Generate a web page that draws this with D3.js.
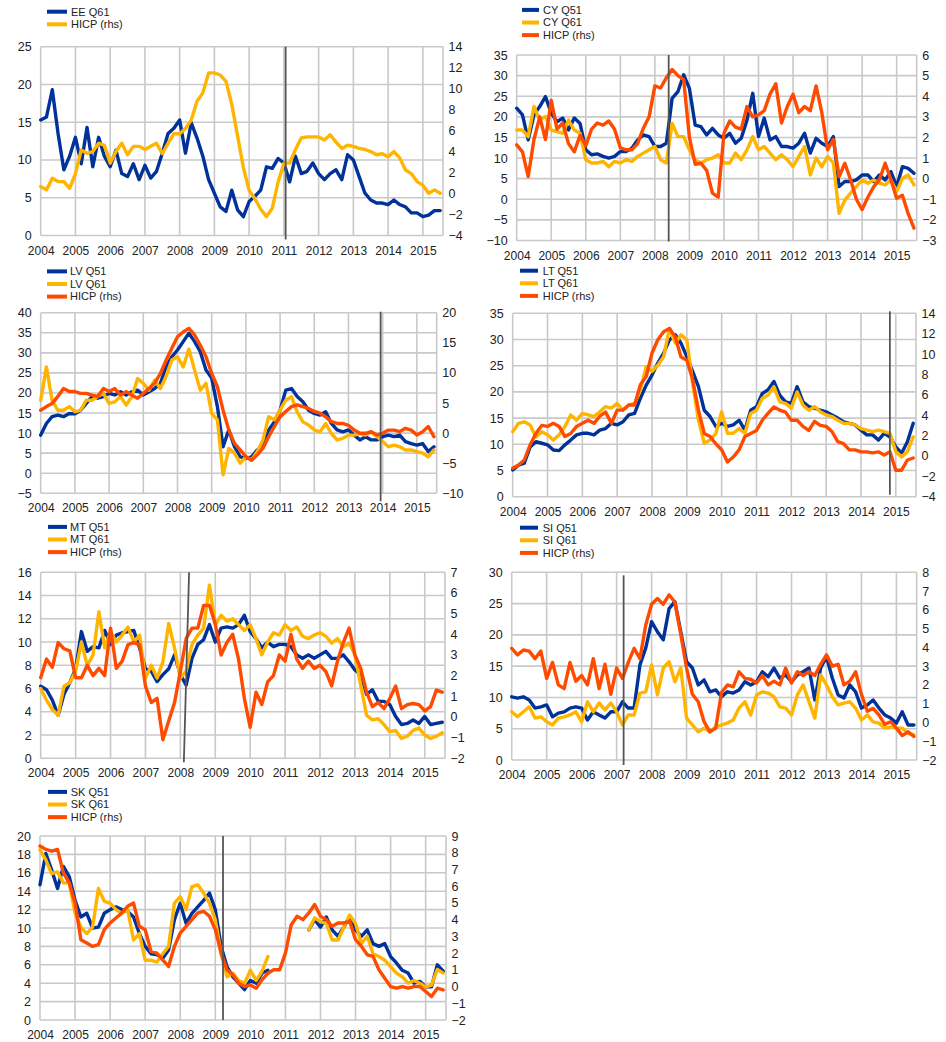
<!DOCTYPE html>
<html><head><meta charset="utf-8">
<script src="https://cdn.jsdelivr.net/npm/d3@7"></script>
<style>
body{margin:0;background:#fff;}
svg text{font-family:Arial,"Liberation Sans",sans-serif;fill:#222;}
</style></head><body>
<svg id="c" width="946" height="1042"></svg>
<script>
const dates = ["2004-01","2004-03","2004-05","2004-07","2004-09","2004-11",
"2005-01","2005-03","2005-05","2005-07","2005-09","2005-11",
"2006-01","2006-03","2006-05","2006-07","2006-09","2006-11",
"2007-01","2007-03","2007-05","2007-07","2007-09","2007-11",
"2008-01","2008-03","2008-05","2008-07","2008-09","2008-11",
"2009-01","2009-03","2009-05","2009-07","2009-09","2009-11",
"2010-01","2010-03","2010-05","2010-07","2010-09","2010-11",
"2011-01","2011-03","2011-05","2011-07","2011-09","2011-11",
"2012-01","2012-03","2012-05","2012-07","2012-09","2012-11",
"2013-01","2013-03","2013-05","2013-07","2013-09","2013-11",
"2014-01","2014-03","2014-05","2014-07","2014-09","2014-11",
"2015-01","2015-03","2015-05","2015-07"];
const years = [2004,2005,2006,2007,2008,2009,2010,2011,2012,2013,2014,2015];

const EE_Q61  = [15.3,15.7,19.3,13.5,8.7,10.5, 13,9.5,14.3,9.1,13,10.5, 9.1,11.3,8.2,7.8,9.5,7.4, 9.3,7.6,8.5,10.9,13.5,14.2, 15.3,10.9,14.9,12.9,10.5,7.4, 5.6,3.8,3.2,6,3.4,2.5, 4.5,5.2,6,9.1,8.9,10.2, 9.6,7.1,10.5,8.2,8.5,9.6, 8.2,7.4,8.2,8.7,7.4,10.7, 10,7.8,5.6,4.7,4.3,4.3, 4.1,4.7,4.1,3.8,3,3, 2.5,2.7,3.3,3.3];
const EE_HICP = [0.67,0.35,1.46,1.14,1.14,0.5, 1.9,4.16,3.84,4.0,4.8,4.6, 2.9,4,4.8,3.7,4.5,4.5, 4.2,4.5,4.8,3.8,4.8,5.7, 5.7,6.2,7,8.8,9.6,11.5, 11.5,11.3,10.7,8.5,5.5,2.5, 0.3,-0.5,-1.5,-2.2,-1.4,1.1, 2.9,2.9,4.2,5.3,5.4,5.4, 5.4,5.1,5.6,4.9,4.3,4.6, 4.5,4.3,4.2,4,3.7,3.8, 3.5,4,3.4,2.25,1.9,1.14, 0.8,0.03,0.35,0.03];

const CY_Q51  = [22.1,20.5,14.4,20.5,22.5,24.9, 20.9,18.8,19.7,16.8,19.7,18.4, 12,10.8,11,10.4,10,10.4, 11.6,11.6,12.4,14.4,15.6,15.2, 12.8,12.8,13.6,24.5,26.1,30.2, 26.9,18,17.6,15.6,17.2,15.6, 14.8,16,13.6,14.8,19.2,25.7, 15.2,19.7,14.4,15.2,12.8,12.8, 12.4,13.6,16,11.2,14.8,13.6, 12.8,15.2,3.1,4.3,4.3,4.7, 5.9,5.9,4.3,5.9,4.7,6.7, 3.1,7.9,7.5,6.3];
const CY_Q61  = [16.8,16.8,15.2,22.5,19.2,20.1, 16.8,16.4,16,19.2,16.8,16, 9.6,8.8,8.8,9.2,7.9,9.2, 8.8,9.6,9.2,10.4,11.2,12, 12.8,9.6,8.8,18.4,15.2,15.2, 12,9.6,8.8,9.6,10,10.8, 8.8,8.8,11.2,9.6,12,15.2, 12,12.8,11.2,9.6,10.8,9.6, 7.9,10.4,12.8,5.9,10,7.9, 10.4,8.8,-3.4,-0.2,1.5,3.1, 4.7,3.9,4.7,3.9,3.5,4.7, 1.9,5.1,5.9,3.5];
const CY_HICP = [1.64,1.3,0.1,1.9,3.0,1.9, 3.8,2.4,2.7,1.7,1.3,2.1, 1.6,2.4,2.7,2.6,2.8,2.4, 1.5,1.4,1.4,1.7,2.45,3, 4.5,4.4,4.9,5.3,5,4.8, 2.0,0.7,0.75,0.4,-0.7,-0.9, 2.2,2.8,2.5,2.4,3.5,3, 3.1,3.3,4.1,4.6,2.7,3.5, 4.1,3.2,3.5,3.3,4.5,3.2, 1.4,1.9,0.1,0.75,-0.05,-1, -1.5,-0.9,-0.4,-0.05,0.75,-0.05, -0.95,-0.8,-1.7,-2.4];

const LV_Q51  = [9.5,12.4,14.1,14.5,14.1,14.9, 14.8,15.7,17.4,19.1,18.7,19.1, 19.9,19.5,20.3,19.5,20.3,20.7, 19.5,20.3,21.1,22.4,26.5,29, 30.7,32.8,34.9,32.8,30.3,25.7, 23.7,16.6,6.6,10.8,6.6,4.1, 3.7,4.1,5.8,6.6,10.8,12.8, 15.7,20.7,21.1,19.1,17.8,15.7, 14.9,14.5,15.3,12.4,10.8,10.3, 10.8,9.5,8.3,9.1,8.3,8.3, 9.1,9.5,9.1,9.5,7.9,7.4, 7,7.4,5.4,6.6];
const LV_Q61  = [18.2,26.5,18.2,15.7,15.7,16.6, 15.3,15.7,18.2,18.2,19.1,19.9, 17.4,17.8,19.1,17,19.1,23.6, 22.4,20.7,23.2,21.1,24.1,28.2, 29,26.5,30.9,25.7,20.7,22.4, 14.9,13.3,-0.4,6.2,5,2.5, 4.1,3.3,5.4,8.3,14.1,13.3, 15.7,18.2,19.1,15.3,12.8,12, 10.8,10.3,12.4,9.9,8.3,8.7, 9.5,9.5,9.9,9.5,10.3,9.1, 7.9,6.6,7,6.6,5.8,5.8, 5.4,5,4.1,5.8];
const LV_HICP = [3.8,4.4,4.9,6.1,7.4,6.9, 6.9,6.6,6.6,6.3,6.1,7.4, 6.9,7.4,6.3,6.9,6.3,5.8, 6.6,7.4,8.3,9.9,12.1,14.1, 16,16.8,17.4,16.3,14.6,12.7, 9.9,7.7,3.8,0.5,-1.7,-2.8, -3.9,-4.5,-3.6,-2.5,-0.6,1.1, 2.7,3.6,4.4,4.7,4.4,4.1, 3.6,3.3,2.7,1.9,1.6,1.6, 1.3,0.5,-0.03,-0.03,0.24,-0.3, -0.03,0.5,0.5,0.24,0.8,0.5, -0.3,0.24,1.1,-0.6];

const LT_Q51  = [5.1,6,6.4,9.5,10.5,10.2, 9.9,8.9,8.8,9.9,10.8,11.8, 12.1,12.1,11.8,12.7,13,14, 13.7,14.3,15.6,15.9,18.8,21.3, 23.2,25.5,27.4,29.9,30.9,29.3, 26.7,23.9,21,16.5,15.3,13.4, 14,13.4,13.7,14.6,12.7,16.5, 17.2,19.7,20.4,22,19.4,18.1, 17.8,21,18.1,17.2,16.9,16.5, 16.2,15.6,15,14.3,14,13.7, 12.7,11.8,11.8,10.8,12.1,11.4, 9.5,8.3,10.5,14];
const LT_Q61  = [12.4,14,14.3,13.7,11.4,12.4, 11.8,10.8,11.8,13.4,15.6,14.6, 15.9,15.6,15.3,16.2,17.2,16.9, 17.8,16.5,17.5,17.8,20.4,24.8, 23.9,25.1,26.7,32.1,29.3,30.9, 29.9,21.6,14.6,10.2,10.8,12.1, 16.2,12.1,12.1,13,12.1,15.9, 16.5,18.8,19.4,21,18.1,17.8, 16.9,20,17.5,16.5,17.2,16.2, 15.6,15.3,14.6,14,14,13.7, 13,12.7,12.4,12.7,12.4,12.1, 8.6,7.6,8.6,11.4];
const LT_HICP = [-1.2,-0.9,-0.4,1.1,2.2,3, 2.9,3.2,2.9,1.9,2.2,2.9, 3.2,3.5,3.2,3.9,4.3,3.2, 4.5,4.5,5,5,7,7.8, 10.1,11.4,12.2,12.5,11.7,9.7, 9.4,7.5,4.5,2.2,1.9,1.2, 0.6,-0.6,-0.1,0.6,1.9,2.2, 2.5,3.5,4.2,4.8,4.5,4.3, 3.5,3.5,2.9,2.5,3.4,3, 2.9,2.4,1.4,1.2,0.6,0.6, 0.4,0.4,0.3,0.4,0.1,0.4, -1.4,-1.4,-0.4,-0.2];

const MT_Q51  = [6.2,5.9,5.0,3.7,5.5,6.5, 7.7,10.9,9.2,9.6,9.5,11, 9.8,10.6,10.8,10.9,11,9.5, 7.7,7.5,6.6,7.2,7.7,8.9, 7.2,6.3,8.6,9.8,10.2,11.5, 10,11.2,11.3,11.2,11.5,12.3, 10.9,10.3,9.5,10,9.6,9.8, 9.8,9.6,8.9,8.6,8.9,8.6, 8.9,9.2,8.6,8.6,8.9,8.3, 7.6,7.2,5.5,5.9,4.9,4.9, 4.6,3.6,2.9,3,3.3,3, 3.6,2.9,3,3.1];
const MT_Q61  = [6,5,4.2,3.7,6.2,6.5, 7.5,10,8,8.9,12.6,9.5, 10.9,10,10.6,11.3,10,10.6, 6.9,8,6.9,8.3,11.6,9.5, 6.9,7.5,9.8,10.6,11.2,14.9, 11.5,12.3,11.8,12,11.5,11, 11.5,10.3,8.9,10,10.8,10.6, 11.5,11,11.3,10.5,10.3,10.6, 10.8,10.5,9.9,10.3,9.6,9.9, 8.9,6.3,3.7,3.3,3.4,2.9, 2.3,2.4,1.7,1.9,2.4,2.6, 2,1.7,1.9,2.2];
const MT_HICP = [1.9,2.8,2.4,3.6,3.3,3.2, 1.9,1.9,2.5,2,2.35,2, 4.3,2.35,2.7,3.5,3.6,3.5, 1.5,0.7,0.9,-1.1,-0.2,0.7, 2.2,3.8,4.3,4.3,5.4,5.4, 4.5,3,3.6,4,2.8,0.9, -0.5,1.2,0.6,1.7,2,3, 2.7,4,2.8,2.35,2.7,2.35, 2.5,2.2,1.5,2.7,3.6,4.3, 3,2.35,1.2,0.5,0.7,0.4, 0.9,1.5,0.4,0.6,0.65,0.6, 0.3,0.5,1.3,1.2];

const SI_Q51  = [10.1,9.9,10.1,9.6,8.3,8.5, 8.8,6.9,7.5,7.7,8.3,8.5, 8.3,6.4,7.7,7.2,6.7,7.7, 7.7,9.3,8.3,8.3,15.2,17.9, 22.1,20.5,19.2,24.2,25.3,20.5, 15.7,14.7,12,12.8,10.9,11.2, 10.1,10.9,10.7,11.2,12.5,12, 12.5,14.1,13.3,14.7,13.1,13.6, 12.5,13.6,14.1,14.7,9.6,14.7, 16.5,13.1,10.4,9.9,12,10.9, 8.3,8.8,9.6,8.3,7.2,6.7, 5.9,7.7,5.6,5.6];
const SI_Q61  = [7.7,6.9,7.7,8.5,6.7,6.9, 6.1,5.6,6.7,6.9,7.2,7.7, 6.1,9.3,7.7,9.1,8,9.1, 7.7,5.6,7.2,7.2,10.7,10.9, 15.2,10.4,14.7,15.7,12.5,14.7, 6.7,5.6,4.5,5.1,4.5,5.3, 5.6,5.9,6.4,8.3,9.3,7.2, 10.4,10.9,10.7,10.1,8.5,8.3, 7.2,10.4,12,9.3,6.7,13.6, 12,10.1,8.8,9.1,9.3,8.3, 6.4,7.2,6.1,5.9,5.1,5.3, 5.1,5.1,4.3,4];
const SI_HICP = [3.95,3.6,3.86,3.8,3.4,3.8, 2.35,3.2,2,1.8,3.2,2.2, 2.5,2,3.4,1.8,3.1,1.5, 2.9,2.35,3.2,3.95,3.4,5.2, 6.3,6.6,6.3,6.8,6.4,4.7, 2.9,1.5,1.1,0.04,-0.5,-0.3, 1.6,2,1.9,2.7,2.35,2.3, 2.1,2.5,2,2.2,2,2.9, 2.1,2.7,2.5,2.7,2.5,3.1, 3.6,3,3.1,2,2.2,2.7, 1.5,0.6,0.75,0.4,-0.1,0.04, -0.3,-0.7,-0.5,-0.75];

const SK_Q51  = [14.7,18.1,16.3,14.3,16.7,15.6, 13,11.2,11.6,10,10.1,11.6, 12,12.3,12,11.8,11.2,9.4, 8,7.2,7.1,6.7,7.6,10.9, 12.7,10.5,11.6,12.3,13,13.8, 12,8,5.8,4.7,4,3.3, 4.3,4,5.1,5.4,null,null, null,null,null,null,9.8,10.9, 10.1,11.2,9.8,9.1,10.1,11.2, 9.8,9.1,9.8,8.3,8,8.3, 6.9,6.2,5.4,5.1,4,4.2, 3.6,3.6,6,5.3];
const SK_Q61  = [18.5,17.4,15.9,16.1,14.9,14.9, 11.6,10.1,9.4,10.1,14.3,12.9, 12.7,12,11.6,12,8.7,9.4, 6.5,6.5,6.3,7.2,8,12.7, 13.4,12,14.5,14.7,13.8,12.7, 10.9,7.2,4.7,5.1,4.3,4, 5.4,4.3,5.3,6.9,null,null, null,null,null,null,9.8,11.1, 10.7,10.5,8.7,8.7,10.1,11.4, 10.5,8.3,9.1,7.2,6.9,6.5, 5.8,5.1,4.7,4,4.3,4, 3.6,3.8,5.5,5.1];
const SK_HICP = [8.4,8.2,8.1,8.2,6.8,6.2, 5,2.8,2.6,2.4,2.5,3.4, 3.8,4.1,4.4,4.8,5,3.6, 3.4,2.1,2,1.6,1.2,2.4, 3.2,3.6,4,4.4,4.5,4.2, 3.4,2,1,0.7,0.2,0, 0.1,-0.1,0.4,0.8,1,1, 2.0,3.7,4.2,4,4.4,4.9, 4.2,4,3.6,3.8,3.8,3.9, 2.8,2.4,1.9,1.8,1,0.5, 0,-0.1,0,-0.1,0,0, -0.3,-0.6,-0.1,-0.2];

// tick labels
const EE_left=[0,5,10,15,20,25], EE_right=[-4,-2,0,2,4,6,8,10,12,14];
const CY_left=[-10,-5,0,5,10,15,20,25,30,35], CY_right=[-3,-2,-1,0,1,2,3,4,5,6];
const LV_left=[-5,0,5,10,15,20,25,30,35,40], LV_right=[-10,-5,0,5,10,15,20];
const LT_left=[0,5,10,15,20,25,30,35], LT_right=[-4,-2,0,2,4,6,8,10,12,14];
const MT_left=[0,2,4,6,8,10,12,14,16], MT_right=[-2,-1,0,1,2,3,4,5,6,7];
const SI_left=[0,5,10,15,20,25,30], SI_right=[-2,-1,0,1,2,3,4,5,6,7,8];
const SK_left=[0,2,4,6,8,10,12,14,16,18,20], SK_right=[-2,-1,0,1,2,3,4,5,6,7,8,9];

// vertical reference lines (date at top, date at bottom)
const EE_mark=[2011.05,2011.05], CY_mark=[2008.4,2008.4], LV_mark=[2013.94,2013.94],
      LT_mark=[2014.83,2014.83], MT_mark=[2008.25,2008.1], SI_mark=[2007.2,2007.2], SK_mark=[2009.22,2009.22];

// ---------- drawing ----------
const BLUE="#003299", YELLOW="#ffb400", ORANGE="#ff4b00", GRID="#c9c9c9";
const xs = dates.map(s => +s.slice(0,4) + (+s.slice(5,7)-1)/12);

const panels = [
 {names:["EE Q61","HICP (rhs)"], series:[[EE_Q61,BLUE,"l"],[EE_HICP,YELLOW,"r"]], lt:EE_left, rt:EE_right, mark:EE_mark,
  box:{l:40.7,r:443,t:46.7,b:235.5}, leg:{x1:47,x2:67,tx:71,cy:18}, md:[0,4]},
 {names:["CY Q51","CY Q61","HICP (rhs)"], series:[[CY_Q51,BLUE,"l"],[CY_Q61,YELLOW,"l"],[CY_HICP,ORANGE,"r"]], lt:CY_left, rt:CY_right, mark:CY_mark,
  box:{l:516.7,r:916.7,t:55,b:240.5}, leg:{x1:522,x2:539,tx:543,cy:22.5}, md:[0,1]},
 {names:["LV Q51","LV Q61","HICP (rhs)"], series:[[LV_Q51,BLUE,"l"],[LV_Q61,YELLOW,"l"],[LV_HICP,ORANGE,"r"]], lt:LV_left, rt:LV_right, mark:LV_mark,
  box:{l:40.7,r:436.7,t:312.7,b:493.3}, leg:{x1:47,x2:67,tx:70,cy:284}, md:[-1,8]},
 {names:["LT Q51","LT Q61","HICP (rhs)"], series:[[LT_Q51,BLUE,"l"],[LT_Q61,YELLOW,"l"],[LT_HICP,ORANGE,"r"]], lt:LT_left, rt:LT_right, mark:LT_mark,
  box:{l:512.7,r:916,t:313.3,b:496.7}, leg:{x1:520,x2:538,tx:542.7,cy:283.3}, md:[-2,-2]},
 {names:["MT Q51","MT Q61","HICP (rhs)"], series:[[MT_Q51,BLUE,"l"],[MT_Q61,YELLOW,"l"],[MT_HICP,ORANGE,"r"]], lt:MT_left, rt:MT_right, mark:MT_mark,
  box:{l:40.7,r:445,t:572.3,b:758.3}, leg:{x1:48,x2:67,tx:70,cy:539.5}, md:[0,4]},
 {names:["SI Q51","SI Q61","HICP (rhs)"], series:[[SI_Q51,BLUE,"l"],[SI_Q61,YELLOW,"l"],[SI_HICP,ORANGE,"r"]], lt:SI_left, rt:SI_right, mark:SI_mark,
  box:{l:511.7,r:916.7,t:572.3,b:760}, leg:{x1:520,x2:538,tx:542.7,cy:540.3}, md:[3,5]},
 {names:["SK Q51","SK Q61","HICP (rhs)"], series:[[SK_Q51,BLUE,"l"],[SK_Q61,YELLOW,"l"],[SK_HICP,ORANGE,"r"]], lt:SK_left, rt:SK_right, mark:SK_mark,
  box:{l:40,r:446,t:836,b:1020}, leg:{x1:48,x2:67,tx:70.7,cy:804.5}, md:[0,0]}
];

const svg = d3.select("#c");
const FONT = 'Arial,"Liberation Sans",sans-serif';
const LEG_STEP = 12.6;

panels.forEach(p => {
  const b = p.box;
  const g = svg.append("g");
  const x = d3.scaleLinear().domain([2004, 2015.58]).range([b.l, b.r]);
  const yl = d3.scaleLinear().domain(d3.extent(p.lt)).range([b.b, b.t]);
  const yr = d3.scaleLinear().domain(d3.extent(p.rt)).range([b.b, b.t]);

  // grid
  g.append("g").selectAll("line").data(p.lt).join("line")
    .attr("x1", b.l).attr("x2", b.r).attr("y1", d => yl(d)).attr("y2", d => yl(d))
    .attr("stroke", GRID).attr("stroke-width", 1.6);
  g.append("g").selectAll("line").data(years).join("line")
    .attr("x1", d => x(d)).attr("x2", d => x(d)).attr("y1", b.t).attr("y2", b.b)
    .attr("stroke", GRID).attr("stroke-width", 1.6);
  g.append("line").attr("x1", b.r).attr("x2", b.r).attr("y1", b.t).attr("y2", b.b)
    .attr("stroke", GRID).attr("stroke-width", 1.6);

  // axes
  const styleAxis = (sel, size) => {
    sel.select(".domain").remove();
    sel.attr("font-family", FONT).attr("font-size", size);
    sel.selectAll("text").attr("fill", "#222");
  };
  g.append("g").attr("transform", `translate(${b.l},0)`)
    .call(d3.axisLeft(yl).tickValues(p.lt).tickSize(0).tickPadding(9).tickFormat(d3.format("d")))
    .call(s => styleAxis(s, 12.5));
  g.append("g").attr("transform", `translate(${b.r},0)`)
    .call(d3.axisRight(yr).tickValues(p.rt).tickSize(0).tickPadding(5.5).tickFormat(d3.format("d")))
    .call(s => styleAxis(s, 12.5));
  g.append("g").attr("transform", `translate(0,${b.b})`)
    .call(d3.axisBottom(x).tickValues(years).tickSize(0).tickPadding(10.5).tickFormat(d3.format("d")))
    .call(s => styleAxis(s, 12));

  // series
  p.series.forEach(([vals, col, ax]) => {
    const y = ax === "l" ? yl : yr;
    const line = d3.line().defined((d, i) => vals[i] !== null)
      .x((d, i) => x(xs[i])).y((d, i) => y(vals[i]));
    g.append("path").datum(vals).attr("d", line)
      .attr("fill", "none").attr("stroke", col).attr("stroke-width", 3.4)
      .attr("stroke-linejoin", "round").attr("stroke-linecap", "round");
  });

  // vertical reference line
  g.append("line")
    .attr("x1", x(p.mark[0])).attr("y1", b.t + p.md[0])
    .attr("x2", x(p.mark[1])).attr("y2", b.b + p.md[1])
    .attr("stroke", "#555").attr("stroke-width", 1.8);

  // legend
  const lg = g.append("g");
  const n = p.names.length;
  p.names.forEach((name, i) => {
    const col = p.series[i][1];
    const yy = p.leg.cy + (i - (n - 1) / 2) * LEG_STEP;
    lg.append("line").attr("x1", p.leg.x1).attr("x2", p.leg.x2)
      .attr("y1", yy).attr("y2", yy)
      .attr("stroke", col).attr("stroke-width", 4);
    lg.append("text").attr("x", p.leg.tx).attr("y", yy).attr("dy", "0.35em")
      .attr("font-size", 11).attr("font-family", FONT).attr("fill", "#222").text(name);
  });
});
</script>
</body></html>
